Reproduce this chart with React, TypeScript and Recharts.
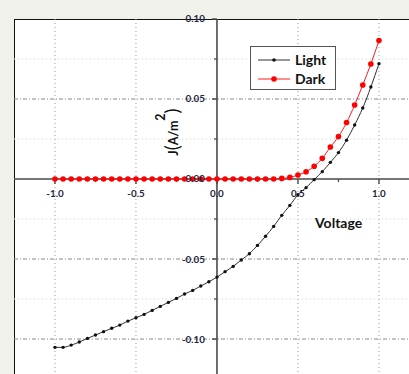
import { LineChart, Line, XAxis, YAxis, ReferenceLine, ReferenceDot } from "recharts";

const voltage = [
  -1.0, -0.95, -0.9, -0.85, -0.8, -0.75, -0.7, -0.65, -0.6, -0.55, -0.5, -0.45, -0.4, -0.35,
  -0.3, -0.25, -0.2, -0.15, -0.1, -0.05, 0.0, 0.05, 0.1, 0.15, 0.2, 0.25, 0.3, 0.35, 0.4, 0.45,
  0.5, 0.55, 0.6, 0.65, 0.7, 0.75, 0.8, 0.85, 0.9, 0.95, 1.0,
];

const light = [
  -0.1052, -0.1052, -0.1038, -0.1019, -0.0996, -0.0975, -0.0954, -0.0933, -0.0913, -0.0888,
  -0.0867, -0.0846, -0.0821, -0.0796, -0.0771, -0.0746, -0.0719, -0.0696, -0.0669, -0.0642,
  -0.0613, -0.0579, -0.0546, -0.0506, -0.0467, -0.0415, -0.0358, -0.0296, -0.0227, -0.0165,
  -0.0098, -0.0054, -0.0004, 0.0046, 0.0104, 0.0165, 0.0243, 0.0338, 0.0444, 0.0575, 0.0721,
];

const dark = [
  0, 0, 0, 0, 0, 0, 0, 0, 0, 0, 0, 0, 0, 0, 0, 0, 0, 0, 0, 0, 0, 0, 0, 0, 0, 0, 0, 0,
  0.0004, 0.001, 0.0025, 0.0045, 0.008, 0.0129, 0.02, 0.0265, 0.0353, 0.0463, 0.0588, 0.0719,
  0.0865,
];

const xTickLabels = ["-1.0", "-0.5", "0.0", "0.5", "1.0"];
const xTicks = [-1.0, -0.5, 0.0, 0.5, 1.0];
const xMinorTicks = [-0.75, -0.25, 0.25, 0.75];
const xGrid = [-1.0, -0.5, 0.5, 1.0];
const yTicks = [0.1, 0.05, -0.05, -0.1];
const yTickLabels = ["0.10", "0.05", "-0.05", "-0.10"];
const yMinorTicks = [0.075, 0.025, -0.025, -0.075];

const data = voltage.map((v, i) => ({ v, light: light[i], dark: dark[i] }));

const FONT = "Lato, 'Open Sans', sans-serif";
const LABEL = "#1c2540";
// tick lengths in data units (162 px per volt, 1600 px per A/m2)
const YT_MAJOR = 5 / 162;
const YT_MINOR = 3 / 162;
const XT_MAJOR = 5 / 1600;
const XT_MINOR = 3 / 1600;

const tickLabel = {
  fontSize: 9.8,
  fontWeight: 700,
  fill: LABEL,
  fontFamily: FONT,
};

export default function App() {
  return (
    <div
      style={{
        position: "fixed",
        left: 0,
        top: 0,
        width: 409,
        height: 374,
        overflow: "hidden",
        background: "#f1f1ec",
      }}
    >
      <div
        style={{
          position: "absolute",
          left: 14,
          top: 19,
          width: 500,
          height: 500,
          background: "#fff",
          borderLeft: "1.5px solid #111",
          borderTop: "1.5px solid #111",
          boxSizing: "border-box",
        }}
      />
      <div style={{ position: "absolute", left: 0, top: 0 }}>
        <LineChart width={470} height={420} data={data} margin={{ top: 19, left: 14, right: 0, bottom: 0 }}>
          <XAxis dataKey="v" type="number" domain={[-1.253, 1.562]} allowDataOverflow hide />
          <YAxis type="number" domain={[-0.1506, 0.1]} allowDataOverflow hide />

          {xGrid.map((x) => (
            <ReferenceLine key={"gx" + x} x={x} stroke="#999" strokeDasharray="1 3" />
          ))}
          {yMinorTicks.map((y) => (
            <ReferenceLine key={"gmy" + y} y={y} stroke="#ccc" strokeDasharray="1 3" />
          ))}
          {[0.05, -0.05, -0.1].map((y) => (
            <ReferenceLine key={"gy" + y} y={y} stroke="#8a8a8a" strokeDasharray="4 2 1 2" />
          ))}

          <ReferenceLine y={0} stroke="#4a4a4a" strokeWidth={1.6} />
          <ReferenceLine x={0} stroke="#4a4a4a" strokeWidth={1.6} />

          {yTicks.map((y) => (
            <ReferenceLine
              key={"ty" + y}
              segment={[{ x: -YT_MAJOR, y }, { x: 0, y }]}
              stroke="#4a4a4a"
              strokeWidth={1.4}
            />
          ))}
          {yMinorTicks.map((y) => (
            <ReferenceLine
              key={"tmy" + y}
              segment={[{ x: -YT_MINOR, y }, { x: 0, y }]}
              stroke="#4a4a4a"
              strokeWidth={1.2}
            />
          ))}
          {xTicks.map((x) => (
            <ReferenceLine
              key={"tx" + x}
              segment={[{ x, y: 0 }, { x, y: -XT_MAJOR }]}
              stroke="#4a4a4a"
              strokeWidth={1.4}
            />
          ))}
          {xMinorTicks.map((x) => (
            <ReferenceLine
              key={"tmx" + x}
              segment={[{ x, y: 0 }, { x, y: -XT_MINOR }]}
              stroke="#4a4a4a"
              strokeWidth={1.2}
            />
          ))}

          <Line
            type="monotone"
            dataKey="light"
            stroke="#333"
            strokeWidth={1}
            dot={{ r: 1.7, fill: "#111", stroke: "#111", strokeWidth: 0 }}
            isAnimationActive={false}
          />
          <Line
            type="monotone"
            dataKey="dark"
            stroke="#ff1a1a"
            strokeWidth={1}
            dot={{ r: 2.8, fill: "#ff0000", stroke: "#ff0000", strokeWidth: 0 }}
            isAnimationActive={false}
          />

          {yTicks.map((y, i) => (
            <ReferenceDot
              key={"ly" + y}
              x={0}
              y={y}
              r={0}
              fill="none"
              stroke="none"
              label={{ value: yTickLabels[i], position: "left", offset: 12, ...tickLabel }}
            />
          ))}
          <ReferenceDot
            x={0}
            y={0}
            r={0}
            fill="none"
            stroke="none"
            label={{ value: "0.00", position: "left", offset: 12, ...tickLabel }}
          />
          {xTicks.map((x, i) => (
            <ReferenceDot
              key={"lx" + x}
              x={x}
              y={0}
              r={0}
              fill="none"
              stroke="none"
              label={{ value: xTickLabels[i], position: "bottom", offset: 11, ...tickLabel }}
            />
          ))}
        </LineChart>
      </div>

      <div
        style={{
          position: "absolute",
          left: 315,
          top: 214,
          fontFamily: FONT,
          fontWeight: 700,
          fontSize: 14,
          color: "#111",
        }}
      >
        Voltage
      </div>

      <svg style={{ position: "absolute", left: 0, top: 0 }} width={409} height={374}>
        <text
          transform="translate(178,132) rotate(-90)"
          textAnchor="middle"
          fontFamily={FONT}
          fontWeight={700}
          fontSize={12.5}
          fill="#111"
        >
          J<tspan fontSize={19} fontWeight={400} dy={1}>(</tspan>
          <tspan dy={-1}>A/m</tspan>
          <tspan dy={-13} fontSize={12.5}>2</tspan>
          <tspan dy={14} fontSize={19} fontWeight={400}>)</tspan>
        </text>
      </svg>

      <div
        style={{
          position: "absolute",
          left: 250,
          top: 46,
          width: 86,
          height: 44,
          boxSizing: "border-box",
          border: "1px solid #555",
          background: "#fff",
          fontFamily: FONT,
          fontWeight: 700,
          fontSize: 14,
          color: "#111",
        }}
      >
        {[
          { name: "Light", color: "#333", dot: "#111", r: 1.8 },
          { name: "Dark", color: "#ff1a1a", dot: "#ff0000", r: 2.8 },
        ].map((s, i) => (
          <div
            key={s.name}
            style={{ position: "absolute", left: 6, top: 4 + i * 19, height: 18, display: "flex", alignItems: "center" }}
          >
            <svg width={34} height={18}>
              <line x1={1} y1={9} x2={33} y2={9} stroke={s.color} strokeWidth={1} />
              <circle cx={17} cy={9} r={s.r} fill={s.dot} />
            </svg>
            <span style={{ marginLeft: 4, lineHeight: "18px" }}>{s.name}</span>
          </div>
        ))}
      </div>
    </div>
  );
}
